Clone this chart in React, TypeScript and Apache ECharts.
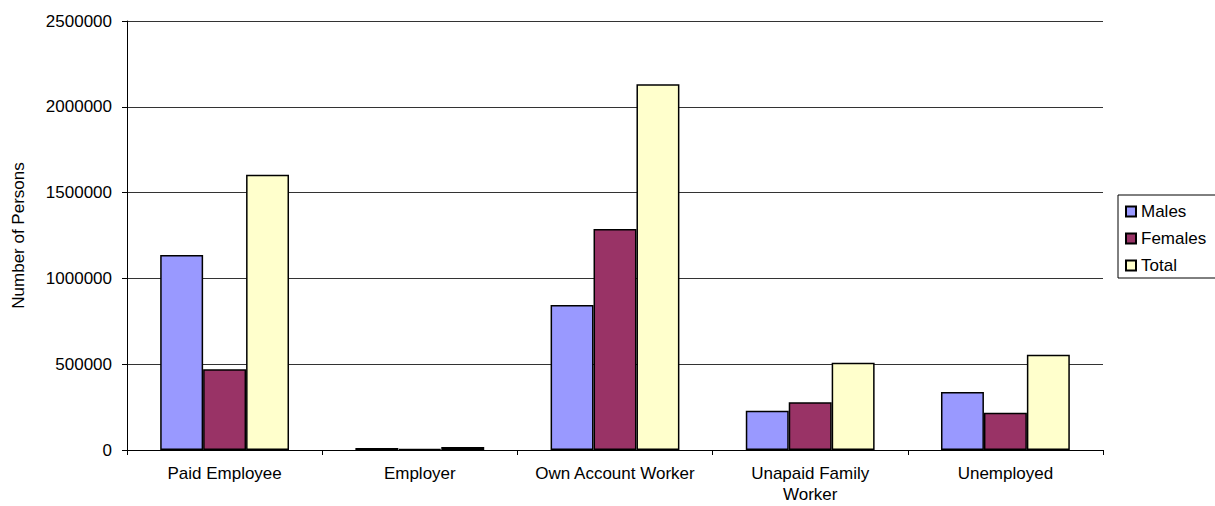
import React, { useEffect, useRef } from "react";
import * as echarts from "echarts";

const categories = ["Paid Employee", "Employer", "Own Account Worker", "Unapaid Family\nWorker", "Unemployed"];
const males = [1136000, 12000, 845000, 229000, 338000];
const females = [470000, 6000, 1288000, 278000, 217000];
const total = [1604000, 18000, 2131000, 509000, 555000];
const yTicks = [0, 500000, 1000000, 1500000, 2000000, 2500000];

const FONT = "'Liberation Sans', Arial, sans-serif";

export default function App() {
  const ref = useRef<HTMLDivElement>(null);
  useEffect(() => {
    document.body.style.margin = "0";
    const chart = echarts.init(ref.current!, null, { renderer: "svg" });
    const barStyle = (color: string) => ({
      color,
      borderColor: "#000",
      borderWidth: 1.5,
    });
    chart.setOption({
      animation: false,
      backgroundColor: "#fff",
      textStyle: { fontFamily: FONT, color: "#000" },
      grid: { left: 127, right: 112, top: 21, bottom: 56, containLabel: false },
      legend: {
        orient: "vertical",
        left: 1118,
        top: 195,
        padding: [8, 10, 4, 7],
        itemGap: 10,
        itemWidth: 10,
        itemHeight: 10,
        borderColor: "#000",
        borderWidth: 1,
        textStyle: { fontSize: 17, fontFamily: FONT, color: "#000" },
        data: [
          { name: "Males", icon: "rect" },
          { name: "Females", icon: "rect" },
          { name: "Total", icon: "rect" },
        ],
      },
      xAxis: {
        type: "category",
        data: categories,
        axisLine: { lineStyle: { color: "#000", width: 1 } },
        axisTick: { show: true, length: 5, alignWithLabel: false, lineStyle: { color: "#000" } },
        axisLabel: {
          fontSize: 17,
          fontFamily: FONT,
          color: "#000",
          margin: 13,
          lineHeight: 21,
          interval: 0,
        },
      },
      yAxis: {
        type: "value",
        min: yTicks[0],
        max: yTicks[yTicks.length - 1],
        interval: yTicks[1] - yTicks[0],
        name: "Number of Persons",
        nameLocation: "middle",
        nameGap: 100,
        nameTextStyle: { fontSize: 17, fontFamily: FONT, color: "#000" },
        axisLine: { show: true, lineStyle: { color: "#000", width: 1 } },
        axisTick: { show: true, length: 5, lineStyle: { color: "#000" } },
        axisLabel: {
          fontSize: 17,
          fontFamily: FONT,
          color: "#000",
          margin: 15,
          formatter: (v: number) => String(v),
        },
        splitLine: { show: true, lineStyle: { color: "#333", width: 1 } },
      },
      series: [
        { name: "Males", type: "bar", data: males, itemStyle: barStyle("#9999FF"), barGap: "0%", barCategoryGap: "34%" },
        { name: "Females", type: "bar", data: females, itemStyle: barStyle("#993366"), barGap: "0%", barCategoryGap: "34%" },
        { name: "Total", type: "bar", data: total, itemStyle: barStyle("#FFFFCC"), barGap: "0%", barCategoryGap: "34%" },
      ],
    });
    return () => chart.dispose();
  }, []);
  return <div ref={ref} style={{ width: 1215, height: 506 }} />;
}
